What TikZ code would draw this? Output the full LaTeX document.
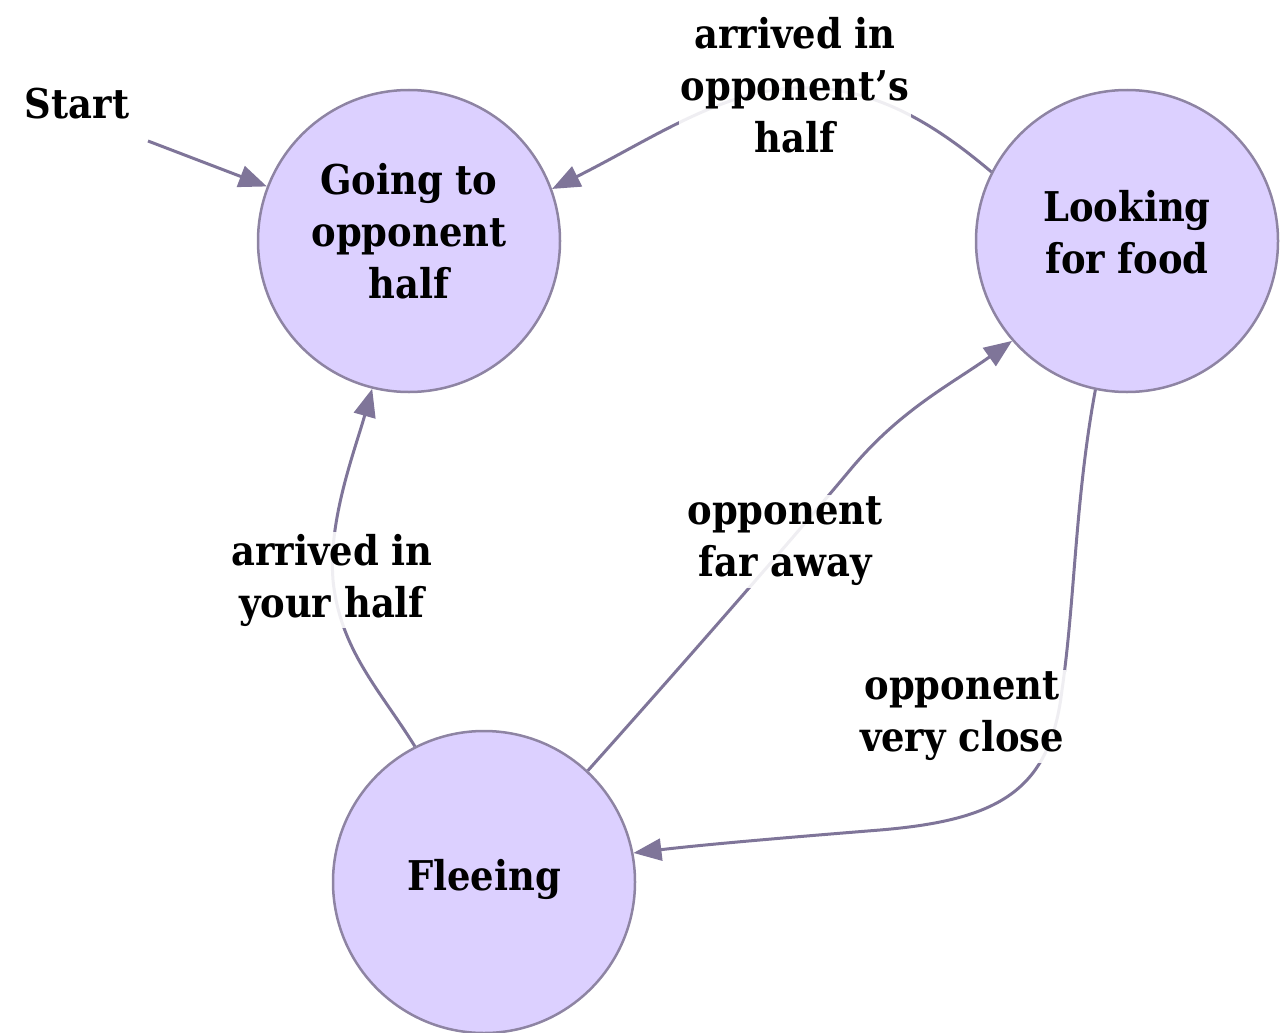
\documentclass[tikz,border=0pt]{standalone}
\usepackage{fontspec}
\setmainfont{DejaVu Serif Condensed Bold}
\usetikzlibrary{arrows.meta}
\definecolor{nodefill}{HTML}{DCD0FF}
\definecolor{nodeline}{HTML}{8E84A3}
\definecolor{edgecol}{HTML}{7F7599}
\tikzset{
  x=1pt,y=-1pt,
  txt/.style={font=\fontsize{41}{52}\selectfont},
  state/.style={circle,draw=nodeline,fill=nodefill,line width=2.5pt,minimum size=302pt,inner sep=0pt},
  statetext/.style={txt,align=center,inner sep=0pt},
  edge/.style={draw=edgecol,line width=3pt,-{Triangle[length=28pt,width=22pt]}},
  lbl/.style={txt,fill=white,fill opacity=0.88,text opacity=1,inner sep=2pt,align=center},
}
\begin{document}
\begin{tikzpicture}
\useasboundingbox (0,0) rectangle (1288,1033);
\node[state,label={[statetext,yshift=10pt]center:Going to\\opponent\\half}] (going) at (409,241) {};
\node[state,label={[statetext,yshift=9pt]center:Looking\\for food}] (lff) at (1127,241) {};
\node[state,label={[statetext,yshift=3pt]center:Fleeing}] (flee) at (484,882) {};
\node[txt] (start) at (77,104) {Start};
\coordinate (s0) at (148,141);
\draw[edge] (s0) -- (going.159);
% LFF -> Going
\draw[edge] (lff.153) .. controls (930,120) and (870,85) .. (795,88) .. controls (720,91) and (650,140) .. (going.20);
\node[lbl] (l1) at (795,85) {arrived in\\opponent’s\\half};
% Fleeing -> Going
\draw[edge] (flee.117) .. controls (380,690) and (340,650) .. (333,580) .. controls (328,520) and (355,450) .. (going.256);
\node[lbl] (l2) at (332,580) {arrived in\\your half};
% Fleeing -> LFF
\draw[edge] (flee.47) .. controls (700,645) and (800,530) .. (850,470) .. controls (900,410) and (950,385) .. (lff.221);
\node[lbl] (l3) at (785,541) {opponent\\far away};
% LFF -> Fleeing
\draw[edge] (lff.258) .. controls (1075,500) and (1075,600) .. (1062,690) .. controls (1050,790) and (1000,820) .. (880,830) .. controls (780,838) and (700,845) .. (flee.11);
\node[lbl] (l4) at (962,716) {opponent\\very close};
\end{tikzpicture}
\end{document}
